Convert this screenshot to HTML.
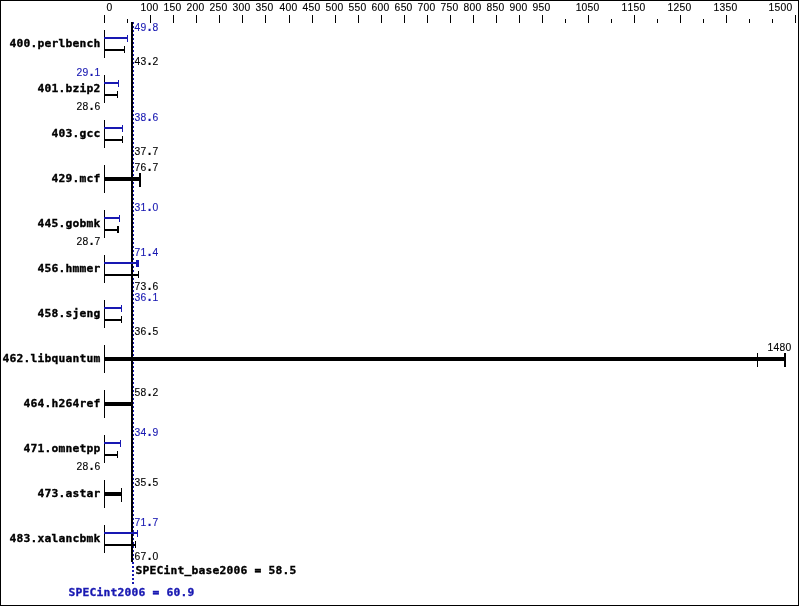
<!DOCTYPE html>
<html><head><meta charset="utf-8"><title>SPECint2006</title>
<style>
html,body{margin:0;padding:0;background:#fff}
svg{display:block}
rect{shape-rendering:crispEdges}
text{text-anchor:middle}
.s{font-family:"Liberation Sans",sans-serif;font-size:11px;stroke-width:.12px}
.p{font-weight:bold;font-size:14px}
.b{font-family:"DejaVu Sans Mono","Liberation Mono",monospace;font-weight:bold;font-size:11.3px;stroke-width:.35px}
</style></head><body>
<svg width="799" height="606" viewBox="0 0 799 606">
<rect x="0" y="0" width="799" height="606" fill="#fff"/>
<rect x="0" y="0" width="799" height="1" fill="#000"/>
<rect x="0" y="605" width="799" height="1" fill="#000"/>
<rect x="0" y="0" width="1" height="606" fill="#000"/>
<rect x="798" y="0" width="1" height="606" fill="#000"/>
<rect x="104" y="15" width="1" height="8" fill="#000"/>
<text class="s" transform="scale(0.94 1)" x="116.49" y="11" fill="#000" stroke="#000">0</text>
<rect x="127" y="19" width="1" height="4" fill="#000"/>
<rect x="150" y="15" width="1" height="8" fill="#000"/>
<text class="s" transform="scale(0.94 1)" x="152.66 159.04 165.43" y="11" fill="#000" stroke="#000">100</text>
<rect x="173" y="15" width="1" height="8" fill="#000"/>
<text class="s" transform="scale(0.94 1)" x="177.13 183.51 189.89" y="11" fill="#000" stroke="#000">150</text>
<rect x="196" y="15" width="1" height="8" fill="#000"/>
<text class="s" transform="scale(0.94 1)" x="201.60 207.98 214.36" y="11" fill="#000" stroke="#000">200</text>
<rect x="219" y="15" width="1" height="8" fill="#000"/>
<text class="s" transform="scale(0.94 1)" x="226.06 232.45 238.83" y="11" fill="#000" stroke="#000">250</text>
<rect x="242" y="15" width="1" height="8" fill="#000"/>
<text class="s" transform="scale(0.94 1)" x="250.53 256.91 263.30" y="11" fill="#000" stroke="#000">300</text>
<rect x="265" y="15" width="1" height="8" fill="#000"/>
<text class="s" transform="scale(0.94 1)" x="275.00 281.38 287.77" y="11" fill="#000" stroke="#000">350</text>
<rect x="289" y="15" width="1" height="8" fill="#000"/>
<text class="s" transform="scale(0.94 1)" x="300.53 306.91 313.30" y="11" fill="#000" stroke="#000">400</text>
<rect x="312" y="15" width="1" height="8" fill="#000"/>
<text class="s" transform="scale(0.94 1)" x="325.00 331.38 337.77" y="11" fill="#000" stroke="#000">450</text>
<rect x="335" y="15" width="1" height="8" fill="#000"/>
<text class="s" transform="scale(0.94 1)" x="349.47 355.85 362.23" y="11" fill="#000" stroke="#000">500</text>
<rect x="358" y="15" width="1" height="8" fill="#000"/>
<text class="s" transform="scale(0.94 1)" x="373.94 380.32 386.70" y="11" fill="#000" stroke="#000">550</text>
<rect x="381" y="15" width="1" height="8" fill="#000"/>
<text class="s" transform="scale(0.94 1)" x="398.40 404.79 411.17" y="11" fill="#000" stroke="#000">600</text>
<rect x="404" y="15" width="1" height="8" fill="#000"/>
<text class="s" transform="scale(0.94 1)" x="422.87 429.26 435.64" y="11" fill="#000" stroke="#000">650</text>
<rect x="427" y="15" width="1" height="8" fill="#000"/>
<text class="s" transform="scale(0.94 1)" x="447.34 453.72 460.11" y="11" fill="#000" stroke="#000">700</text>
<rect x="450" y="15" width="1" height="8" fill="#000"/>
<text class="s" transform="scale(0.94 1)" x="471.81 478.19 484.57" y="11" fill="#000" stroke="#000">750</text>
<rect x="473" y="15" width="1" height="8" fill="#000"/>
<text class="s" transform="scale(0.94 1)" x="496.28 502.66 509.04" y="11" fill="#000" stroke="#000">800</text>
<rect x="496" y="15" width="1" height="8" fill="#000"/>
<text class="s" transform="scale(0.94 1)" x="520.74 527.13 533.51" y="11" fill="#000" stroke="#000">850</text>
<rect x="519" y="15" width="1" height="8" fill="#000"/>
<text class="s" transform="scale(0.94 1)" x="545.21 551.60 557.98" y="11" fill="#000" stroke="#000">900</text>
<rect x="542" y="15" width="1" height="8" fill="#000"/>
<text class="s" transform="scale(0.94 1)" x="569.68 576.06 582.45" y="11" fill="#000" stroke="#000">950</text>
<rect x="565" y="19" width="1" height="4" fill="#000"/>
<rect x="588" y="15" width="1" height="8" fill="#000"/>
<text class="s" transform="scale(0.94 1)" x="615.43 621.81 628.19 634.57" y="11" fill="#000" stroke="#000">1050</text>
<rect x="611" y="19" width="1" height="4" fill="#000"/>
<rect x="634" y="15" width="1" height="8" fill="#000"/>
<text class="s" transform="scale(0.94 1)" x="664.36 670.74 677.13 683.51" y="11" fill="#000" stroke="#000">1150</text>
<rect x="657" y="19" width="1" height="4" fill="#000"/>
<rect x="680" y="15" width="1" height="8" fill="#000"/>
<text class="s" transform="scale(0.94 1)" x="713.30 719.68 726.06 732.45" y="11" fill="#000" stroke="#000">1250</text>
<rect x="703" y="19" width="1" height="4" fill="#000"/>
<rect x="726" y="15" width="1" height="8" fill="#000"/>
<text class="s" transform="scale(0.94 1)" x="762.23 768.62 775.00 781.38" y="11" fill="#000" stroke="#000">1350</text>
<rect x="749" y="19" width="1" height="4" fill="#000"/>
<rect x="772" y="19" width="1" height="4" fill="#000"/>
<rect x="795" y="15" width="1" height="8" fill="#000"/>
<text class="s" transform="scale(0.94 1)" x="820.74 827.13 833.51 839.89" y="11" fill="#000" stroke="#000">1500</text>
<rect x="132" y="22" width="2" height="2" fill="#1818b2"/>
<rect x="132" y="26" width="2" height="2" fill="#1818b2"/>
<rect x="132" y="30" width="2" height="2" fill="#1818b2"/>
<rect x="132" y="34" width="2" height="2" fill="#1818b2"/>
<rect x="132" y="38" width="2" height="2" fill="#1818b2"/>
<rect x="132" y="42" width="2" height="2" fill="#1818b2"/>
<rect x="132" y="46" width="2" height="2" fill="#1818b2"/>
<rect x="132" y="50" width="2" height="2" fill="#1818b2"/>
<rect x="132" y="54" width="2" height="2" fill="#1818b2"/>
<rect x="132" y="58" width="2" height="2" fill="#1818b2"/>
<rect x="132" y="62" width="2" height="2" fill="#1818b2"/>
<rect x="132" y="66" width="2" height="2" fill="#1818b2"/>
<rect x="132" y="70" width="2" height="2" fill="#1818b2"/>
<rect x="132" y="74" width="2" height="2" fill="#1818b2"/>
<rect x="132" y="78" width="2" height="2" fill="#1818b2"/>
<rect x="132" y="82" width="2" height="2" fill="#1818b2"/>
<rect x="132" y="86" width="2" height="2" fill="#1818b2"/>
<rect x="132" y="90" width="2" height="2" fill="#1818b2"/>
<rect x="132" y="94" width="2" height="2" fill="#1818b2"/>
<rect x="132" y="98" width="2" height="2" fill="#1818b2"/>
<rect x="132" y="102" width="2" height="2" fill="#1818b2"/>
<rect x="132" y="106" width="2" height="2" fill="#1818b2"/>
<rect x="132" y="110" width="2" height="2" fill="#1818b2"/>
<rect x="132" y="114" width="2" height="2" fill="#1818b2"/>
<rect x="132" y="118" width="2" height="2" fill="#1818b2"/>
<rect x="132" y="122" width="2" height="2" fill="#1818b2"/>
<rect x="132" y="126" width="2" height="2" fill="#1818b2"/>
<rect x="132" y="130" width="2" height="2" fill="#1818b2"/>
<rect x="132" y="134" width="2" height="2" fill="#1818b2"/>
<rect x="132" y="138" width="2" height="2" fill="#1818b2"/>
<rect x="132" y="142" width="2" height="2" fill="#1818b2"/>
<rect x="132" y="146" width="2" height="2" fill="#1818b2"/>
<rect x="132" y="150" width="2" height="2" fill="#1818b2"/>
<rect x="132" y="154" width="2" height="2" fill="#1818b2"/>
<rect x="132" y="158" width="2" height="2" fill="#1818b2"/>
<rect x="132" y="162" width="2" height="2" fill="#1818b2"/>
<rect x="132" y="166" width="2" height="2" fill="#1818b2"/>
<rect x="132" y="170" width="2" height="2" fill="#1818b2"/>
<rect x="132" y="174" width="2" height="2" fill="#1818b2"/>
<rect x="132" y="178" width="2" height="2" fill="#1818b2"/>
<rect x="132" y="182" width="2" height="2" fill="#1818b2"/>
<rect x="132" y="186" width="2" height="2" fill="#1818b2"/>
<rect x="132" y="190" width="2" height="2" fill="#1818b2"/>
<rect x="132" y="194" width="2" height="2" fill="#1818b2"/>
<rect x="132" y="198" width="2" height="2" fill="#1818b2"/>
<rect x="132" y="202" width="2" height="2" fill="#1818b2"/>
<rect x="132" y="206" width="2" height="2" fill="#1818b2"/>
<rect x="132" y="210" width="2" height="2" fill="#1818b2"/>
<rect x="132" y="214" width="2" height="2" fill="#1818b2"/>
<rect x="132" y="218" width="2" height="2" fill="#1818b2"/>
<rect x="132" y="222" width="2" height="2" fill="#1818b2"/>
<rect x="132" y="226" width="2" height="2" fill="#1818b2"/>
<rect x="132" y="230" width="2" height="2" fill="#1818b2"/>
<rect x="132" y="234" width="2" height="2" fill="#1818b2"/>
<rect x="132" y="238" width="2" height="2" fill="#1818b2"/>
<rect x="132" y="242" width="2" height="2" fill="#1818b2"/>
<rect x="132" y="246" width="2" height="2" fill="#1818b2"/>
<rect x="132" y="250" width="2" height="2" fill="#1818b2"/>
<rect x="132" y="254" width="2" height="2" fill="#1818b2"/>
<rect x="132" y="258" width="2" height="2" fill="#1818b2"/>
<rect x="132" y="262" width="2" height="2" fill="#1818b2"/>
<rect x="132" y="266" width="2" height="2" fill="#1818b2"/>
<rect x="132" y="270" width="2" height="2" fill="#1818b2"/>
<rect x="132" y="274" width="2" height="2" fill="#1818b2"/>
<rect x="132" y="278" width="2" height="2" fill="#1818b2"/>
<rect x="132" y="282" width="2" height="2" fill="#1818b2"/>
<rect x="132" y="286" width="2" height="2" fill="#1818b2"/>
<rect x="132" y="290" width="2" height="2" fill="#1818b2"/>
<rect x="132" y="294" width="2" height="2" fill="#1818b2"/>
<rect x="132" y="298" width="2" height="2" fill="#1818b2"/>
<rect x="132" y="302" width="2" height="2" fill="#1818b2"/>
<rect x="132" y="306" width="2" height="2" fill="#1818b2"/>
<rect x="132" y="310" width="2" height="2" fill="#1818b2"/>
<rect x="132" y="314" width="2" height="2" fill="#1818b2"/>
<rect x="132" y="318" width="2" height="2" fill="#1818b2"/>
<rect x="132" y="322" width="2" height="2" fill="#1818b2"/>
<rect x="132" y="326" width="2" height="2" fill="#1818b2"/>
<rect x="132" y="330" width="2" height="2" fill="#1818b2"/>
<rect x="132" y="334" width="2" height="2" fill="#1818b2"/>
<rect x="132" y="338" width="2" height="2" fill="#1818b2"/>
<rect x="132" y="342" width="2" height="2" fill="#1818b2"/>
<rect x="132" y="346" width="2" height="2" fill="#1818b2"/>
<rect x="132" y="350" width="2" height="2" fill="#1818b2"/>
<rect x="132" y="354" width="2" height="2" fill="#1818b2"/>
<rect x="132" y="358" width="2" height="2" fill="#1818b2"/>
<rect x="132" y="362" width="2" height="2" fill="#1818b2"/>
<rect x="132" y="366" width="2" height="2" fill="#1818b2"/>
<rect x="132" y="370" width="2" height="2" fill="#1818b2"/>
<rect x="132" y="374" width="2" height="2" fill="#1818b2"/>
<rect x="132" y="378" width="2" height="2" fill="#1818b2"/>
<rect x="132" y="382" width="2" height="2" fill="#1818b2"/>
<rect x="132" y="386" width="2" height="2" fill="#1818b2"/>
<rect x="132" y="390" width="2" height="2" fill="#1818b2"/>
<rect x="132" y="394" width="2" height="2" fill="#1818b2"/>
<rect x="132" y="398" width="2" height="2" fill="#1818b2"/>
<rect x="132" y="402" width="2" height="2" fill="#1818b2"/>
<rect x="132" y="406" width="2" height="2" fill="#1818b2"/>
<rect x="132" y="410" width="2" height="2" fill="#1818b2"/>
<rect x="132" y="414" width="2" height="2" fill="#1818b2"/>
<rect x="132" y="418" width="2" height="2" fill="#1818b2"/>
<rect x="132" y="422" width="2" height="2" fill="#1818b2"/>
<rect x="132" y="426" width="2" height="2" fill="#1818b2"/>
<rect x="132" y="430" width="2" height="2" fill="#1818b2"/>
<rect x="132" y="434" width="2" height="2" fill="#1818b2"/>
<rect x="132" y="438" width="2" height="2" fill="#1818b2"/>
<rect x="132" y="442" width="2" height="2" fill="#1818b2"/>
<rect x="132" y="446" width="2" height="2" fill="#1818b2"/>
<rect x="132" y="450" width="2" height="2" fill="#1818b2"/>
<rect x="132" y="454" width="2" height="2" fill="#1818b2"/>
<rect x="132" y="458" width="2" height="2" fill="#1818b2"/>
<rect x="132" y="462" width="2" height="2" fill="#1818b2"/>
<rect x="132" y="466" width="2" height="2" fill="#1818b2"/>
<rect x="132" y="470" width="2" height="2" fill="#1818b2"/>
<rect x="132" y="474" width="2" height="2" fill="#1818b2"/>
<rect x="132" y="478" width="2" height="2" fill="#1818b2"/>
<rect x="132" y="482" width="2" height="2" fill="#1818b2"/>
<rect x="132" y="486" width="2" height="2" fill="#1818b2"/>
<rect x="132" y="490" width="2" height="2" fill="#1818b2"/>
<rect x="132" y="494" width="2" height="2" fill="#1818b2"/>
<rect x="132" y="498" width="2" height="2" fill="#1818b2"/>
<rect x="132" y="502" width="2" height="2" fill="#1818b2"/>
<rect x="132" y="506" width="2" height="2" fill="#1818b2"/>
<rect x="132" y="510" width="2" height="2" fill="#1818b2"/>
<rect x="132" y="514" width="2" height="2" fill="#1818b2"/>
<rect x="132" y="518" width="2" height="2" fill="#1818b2"/>
<rect x="132" y="522" width="2" height="2" fill="#1818b2"/>
<rect x="132" y="526" width="2" height="2" fill="#1818b2"/>
<rect x="132" y="530" width="2" height="2" fill="#1818b2"/>
<rect x="132" y="534" width="2" height="2" fill="#1818b2"/>
<rect x="132" y="538" width="2" height="2" fill="#1818b2"/>
<rect x="132" y="542" width="2" height="2" fill="#1818b2"/>
<rect x="132" y="546" width="2" height="2" fill="#1818b2"/>
<rect x="132" y="550" width="2" height="2" fill="#1818b2"/>
<rect x="132" y="554" width="2" height="2" fill="#1818b2"/>
<rect x="132" y="558" width="2" height="2" fill="#1818b2"/>
<rect x="132" y="562" width="2" height="2" fill="#1818b2"/>
<rect x="132" y="566" width="2" height="2" fill="#1818b2"/>
<rect x="132" y="570" width="2" height="2" fill="#1818b2"/>
<rect x="132" y="574" width="2" height="2" fill="#1818b2"/>
<rect x="132" y="578" width="2" height="2" fill="#1818b2"/>
<rect x="132" y="582" width="2" height="2" fill="#1818b2"/>
<rect x="131" y="22" width="2" height="540" fill="#000"/>
<text class="b" x="13 20 27 34 41 48 55 62 69 76 83 90 97" y="47" fill="#000" stroke="#000">400.perlbench</text>
<rect x="104" y="30" width="1" height="28" fill="#000"/>
<rect x="104" y="37" width="24" height="2" fill="#1818b2"/>
<rect x="127" y="35" width="1" height="7" fill="#1818b2"/>
<rect x="104" y="49" width="21" height="2" fill="#000"/>
<rect x="124" y="46" width="1" height="7" fill="#000"/>
<text class="s" transform="scale(0.94 1)" x="146.28 152.66 159.04 165.43" y="31" fill="#1818b2" stroke="#1818b2">49<tspan class="p">.</tspan>8</text>
<text class="s" transform="scale(0.94 1)" x="146.28 152.66 159.04 165.43" y="65" fill="#000" stroke="#000">43<tspan class="p">.</tspan>2</text>
<text class="b" x="41 48 55 62 69 76 83 90 97" y="92" fill="#000" stroke="#000">401.bzip2</text>
<rect x="104" y="75" width="1" height="28" fill="#000"/>
<rect x="104" y="82" width="15" height="2" fill="#1818b2"/>
<rect x="118" y="80" width="1" height="7" fill="#1818b2"/>
<rect x="104" y="94" width="14" height="2" fill="#000"/>
<rect x="117" y="91" width="1" height="7" fill="#000"/>
<text class="s" transform="scale(0.94 1)" x="84.57 90.96 97.34 103.72" y="76" fill="#1818b2" stroke="#1818b2">29<tspan class="p">.</tspan>1</text>
<text class="s" transform="scale(0.94 1)" x="84.57 90.96 97.34 103.72" y="110" fill="#000" stroke="#000">28<tspan class="p">.</tspan>6</text>
<text class="b" x="55 62 69 76 83 90 97" y="137" fill="#000" stroke="#000">403.gcc</text>
<rect x="104" y="120" width="1" height="28" fill="#000"/>
<rect x="104" y="127" width="19" height="2" fill="#1818b2"/>
<rect x="122" y="125" width="1" height="7" fill="#1818b2"/>
<rect x="104" y="139" width="19" height="2" fill="#000"/>
<rect x="122" y="136" width="1" height="7" fill="#000"/>
<text class="s" transform="scale(0.94 1)" x="146.28 152.66 159.04 165.43" y="121" fill="#1818b2" stroke="#1818b2">38<tspan class="p">.</tspan>6</text>
<text class="s" transform="scale(0.94 1)" x="146.28 152.66 159.04 165.43" y="155" fill="#000" stroke="#000">37<tspan class="p">.</tspan>7</text>
<text class="b" x="55 62 69 76 83 90 97" y="182" fill="#000" stroke="#000">429.mcf</text>
<rect x="104" y="165" width="1" height="28" fill="#000"/>
<rect x="104" y="177" width="37" height="4" fill="#000"/>
<rect x="139" y="173" width="2" height="14" fill="#000"/>
<text class="s" transform="scale(0.94 1)" x="146.28 152.66 159.04 165.43" y="171" fill="#000" stroke="#000">76<tspan class="p">.</tspan>7</text>
<text class="b" x="41 48 55 62 69 76 83 90 97" y="227" fill="#000" stroke="#000">445.gobmk</text>
<rect x="104" y="210" width="1" height="28" fill="#000"/>
<rect x="104" y="217" width="16" height="2" fill="#1818b2"/>
<rect x="119" y="215" width="1" height="7" fill="#1818b2"/>
<rect x="104" y="229" width="14" height="2" fill="#000"/>
<rect x="117" y="226" width="2" height="7" fill="#000"/>
<text class="s" transform="scale(0.94 1)" x="146.28 152.66 159.04 165.43" y="211" fill="#1818b2" stroke="#1818b2">31<tspan class="p">.</tspan>0</text>
<text class="s" transform="scale(0.94 1)" x="84.57 90.96 97.34 103.72" y="245" fill="#000" stroke="#000">28<tspan class="p">.</tspan>7</text>
<text class="b" x="41 48 55 62 69 76 83 90 97" y="272" fill="#000" stroke="#000">456.hmmer</text>
<rect x="104" y="255" width="1" height="28" fill="#000"/>
<rect x="104" y="262" width="34" height="2" fill="#1818b2"/>
<rect x="136" y="260" width="3" height="7" fill="#1818b2"/>
<rect x="104" y="274" width="35" height="2" fill="#000"/>
<rect x="138" y="271" width="1" height="7" fill="#000"/>
<text class="s" transform="scale(0.94 1)" x="146.28 152.66 159.04 165.43" y="256" fill="#1818b2" stroke="#1818b2">71<tspan class="p">.</tspan>4</text>
<text class="s" transform="scale(0.94 1)" x="146.28 152.66 159.04 165.43" y="290" fill="#000" stroke="#000">73<tspan class="p">.</tspan>6</text>
<text class="b" x="41 48 55 62 69 76 83 90 97" y="317" fill="#000" stroke="#000">458.sjeng</text>
<rect x="104" y="300" width="1" height="28" fill="#000"/>
<rect x="104" y="307" width="18" height="2" fill="#1818b2"/>
<rect x="121" y="305" width="1" height="7" fill="#1818b2"/>
<rect x="104" y="319" width="18" height="2" fill="#000"/>
<rect x="121" y="316" width="1" height="7" fill="#000"/>
<text class="s" transform="scale(0.94 1)" x="146.28 152.66 159.04 165.43" y="301" fill="#1818b2" stroke="#1818b2">36<tspan class="p">.</tspan>1</text>
<text class="s" transform="scale(0.94 1)" x="146.28 152.66 159.04 165.43" y="335" fill="#000" stroke="#000">36<tspan class="p">.</tspan>5</text>
<text class="b" x="6 13 20 27 34 41 48 55 62 69 76 83 90 97" y="362" fill="#000" stroke="#000">462.libquantum</text>
<rect x="104" y="345" width="1" height="28" fill="#000"/>
<rect x="104" y="357" width="682" height="4" fill="#000"/>
<rect x="757" y="353" width="1" height="14" fill="#000"/>
<rect x="784" y="353" width="2" height="14" fill="#000"/>
<text class="s" transform="scale(0.94 1)" x="819.68 826.06 832.45 838.83" y="351" fill="#000" stroke="#000">1480</text>
<text class="b" x="27 34 41 48 55 62 69 76 83 90 97" y="407" fill="#000" stroke="#000">464.h264ref</text>
<rect x="104" y="390" width="1" height="28" fill="#000"/>
<rect x="104" y="402" width="28" height="4" fill="#000"/>
<rect x="131" y="398" width="1" height="14" fill="#000"/>
<text class="s" transform="scale(0.94 1)" x="146.28 152.66 159.04 165.43" y="396" fill="#000" stroke="#000">58<tspan class="p">.</tspan>2</text>
<text class="b" x="27 34 41 48 55 62 69 76 83 90 97" y="452" fill="#000" stroke="#000">471.omnetpp</text>
<rect x="104" y="435" width="1" height="28" fill="#000"/>
<rect x="104" y="442" width="17" height="2" fill="#1818b2"/>
<rect x="120" y="440" width="1" height="7" fill="#1818b2"/>
<rect x="104" y="454" width="14" height="2" fill="#000"/>
<rect x="117" y="451" width="1" height="7" fill="#000"/>
<text class="s" transform="scale(0.94 1)" x="146.28 152.66 159.04 165.43" y="436" fill="#1818b2" stroke="#1818b2">34<tspan class="p">.</tspan>9</text>
<text class="s" transform="scale(0.94 1)" x="84.57 90.96 97.34 103.72" y="470" fill="#000" stroke="#000">28<tspan class="p">.</tspan>6</text>
<text class="b" x="41 48 55 62 69 76 83 90 97" y="497" fill="#000" stroke="#000">473.astar</text>
<rect x="104" y="480" width="1" height="28" fill="#000"/>
<rect x="104" y="492" width="18" height="4" fill="#000"/>
<rect x="121" y="488" width="1" height="14" fill="#000"/>
<text class="s" transform="scale(0.94 1)" x="146.28 152.66 159.04 165.43" y="486" fill="#000" stroke="#000">35<tspan class="p">.</tspan>5</text>
<text class="b" x="13 20 27 34 41 48 55 62 69 76 83 90 97" y="542" fill="#000" stroke="#000">483.xalancbmk</text>
<rect x="104" y="525" width="1" height="28" fill="#000"/>
<rect x="104" y="532" width="34" height="2" fill="#1818b2"/>
<rect x="137" y="530" width="1" height="7" fill="#1818b2"/>
<rect x="104" y="544" width="32" height="2" fill="#000"/>
<rect x="135" y="541" width="1" height="7" fill="#000"/>
<text class="s" transform="scale(0.94 1)" x="146.28 152.66 159.04 165.43" y="526" fill="#1818b2" stroke="#1818b2">71<tspan class="p">.</tspan>7</text>
<text class="s" transform="scale(0.94 1)" x="146.28 152.66 159.04 165.43" y="560" fill="#000" stroke="#000">67<tspan class="p">.</tspan>0</text>
<text class="b" x="139 146 153 160 167 174 181 188 195 202 209 216 223 230 237 244 251 258 265 272 279 286 293" y="574 574 574 574 574 574 574 573 574 574 574 574 574 574 574 574 574 574 574 574 574 574 574" fill="#000" stroke="#000">SPECint_base2006 = 58.5</text>
<text class="b" x="72 79 86 93 100 107 114 121 128 135 142 149 156 163 170 177 184 191" y="596" fill="#1818b2" stroke="#1818b2">SPECint2006 = 60.9</text>
</svg>
</body></html>
